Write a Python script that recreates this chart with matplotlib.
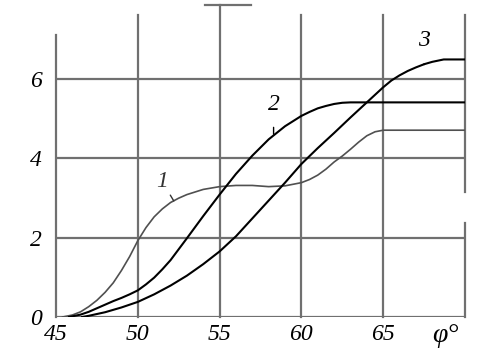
import matplotlib
matplotlib.use('Agg')
import matplotlib.pyplot as plt

plt.rcParams['font.family'] = ['Liberation Serif', 'DejaVu Serif']
plt.rcParams['font.style'] = 'italic'

# Kurve 1 (hellere Linie)
phi1 = [45.4, 46, 46.5, 47, 47.5, 48, 48.5, 49, 49.5, 50, 50.5, 51, 51.5, 52, 52.5, 53, 54, 55, 56, 57, 58,
        59, 60, 60.5, 61, 61.5, 62, 62.5, 63, 63.5, 64, 64.5, 65, 70]
y1 = [0, 0.05, 0.13, 0.26, 0.42, 0.62, 0.86, 1.17, 1.52, 1.92, 2.25, 2.52, 2.72, 2.88, 2.99, 3.08, 3.21, 3.28, 3.31,
      3.31, 3.28, 3.3, 3.38, 3.46, 3.57, 3.72, 3.9, 4.05, 4.22, 4.4, 4.56, 4.66, 4.7, 4.7]

# Kurve 2
phi2 = [45.8, 46.5, 47, 47.5, 48, 48.5, 49, 49.5, 50, 50.5, 51, 51.5, 52, 53, 54, 55, 56, 57, 58, 59, 60, 60.5,
        61, 61.5, 62, 62.5, 63, 70]
y2 = [0, 0.06, 0.13, 0.22, 0.31, 0.4, 0.48, 0.57, 0.67, 0.82, 0.99, 1.2, 1.43, 1.98, 2.54, 3.08, 3.6, 4.06, 4.47,
      4.8, 5.06, 5.16, 5.25, 5.31, 5.36, 5.39, 5.4, 5.4]

# Kurve 3
phi3 = [46.6, 47, 48, 49, 50, 51, 52, 53, 54, 55, 56, 57, 58, 59, 60, 61, 62, 63, 64, 65, 65.5, 66, 66.5, 67,
        67.5, 68, 68.7, 70]
y3 = [0, 0.03, 0.12, 0.24, 0.38, 0.57, 0.79, 1.04, 1.33, 1.65, 2.03, 2.48, 2.93, 3.38, 3.85, 4.25, 4.63, 5.02,
      5.4, 5.78, 5.95, 6.08, 6.19, 6.28, 6.36, 6.42, 6.48, 6.48]

x_ticks = [45, 50, 55, 60, 65, 70]
x_labels = ['45', '50', '55', '60', '65', '']
y_ticks = [0, 2, 4, 6]

grid_col = '#707070'

fig = plt.figure(figsize=(4.93, 3.59), dpi=100)
ax = fig.add_axes([56 / 493, 42 / 359, 409 / 493, 312 / 359])
ax.set_xlim(45, 70)
ax.set_ylim(0, 7.85)
for s in ax.spines.values():
    s.set_visible(False)

# Gitterlinien (wie im Original unterschiedlich lang)
for y in y_ticks:
    ax.plot([45, 70], [y, y], color=grid_col, lw=1.6, zorder=1)
tops = {45: 7.1, 50: 7.6, 55: 7.85, 60: 7.6, 65: 7.6}
for x in x_ticks[:-1]:
    ax.plot([x, x], [0, tops[x]], color=grid_col, lw=1.6, zorder=1, clip_on=False)
# rechter Rand mit Lücke
ax.plot([70, 70], [0, 2.36], color=grid_col, lw=1.6, clip_on=False)
ax.plot([70, 70], [3.14, 7.6], color=grid_col, lw=1.6, clip_on=False)
ax.plot([54.1, 56.9], [7.85, 7.85], color=grid_col, lw=1.6, clip_on=False)

# Kurven
ax.plot(phi1, y1, color='#505050', lw=1.2, zorder=3)
ax.plot(phi2, y2, color='black', lw=1.5, zorder=3)
ax.plot(phi3, y3, color='black', lw=1.5, zorder=3)

# Kurvenbeschriftungen mit kleinen Strichen
ax.annotate('1', xy=(52.2, 2.92), xytext=(51.5, 3.4), fontsize=17, color='#333333',
            ha='center', va='center',
            arrowprops=dict(arrowstyle='-', color='#333333', lw=1.0, shrinkA=6, shrinkB=0))
ax.annotate('2', xy=(58.3, 4.6), xytext=(58.3, 5.35), fontsize=17,
            ha='center', va='center',
            arrowprops=dict(arrowstyle='-', color='black', lw=1.0, shrinkA=7, shrinkB=0))
ax.annotate('3', xy=(67.5, 6.35), xytext=(67.5, 6.95), fontsize=17,
            ha='center', va='center',
            arrowprops=dict(arrowstyle='-', color='black', lw=1.0, shrinkA=7, shrinkB=0))

ax.set_xticks(x_ticks)
ax.set_xticklabels(x_labels, fontsize=17)
ax.set_yticks(y_ticks)
ax.set_yticklabels([str(v) for v in y_ticks], fontsize=17)
ax.tick_params(axis='both', length=0)
ax.tick_params(axis='x', pad=5)
ax.tick_params(axis='y', pad=10)

ax.text(68.8, -0.47, 'φ°', fontsize=20, ha='center', va='center')

fig.savefig('out.png', dpi=100)
